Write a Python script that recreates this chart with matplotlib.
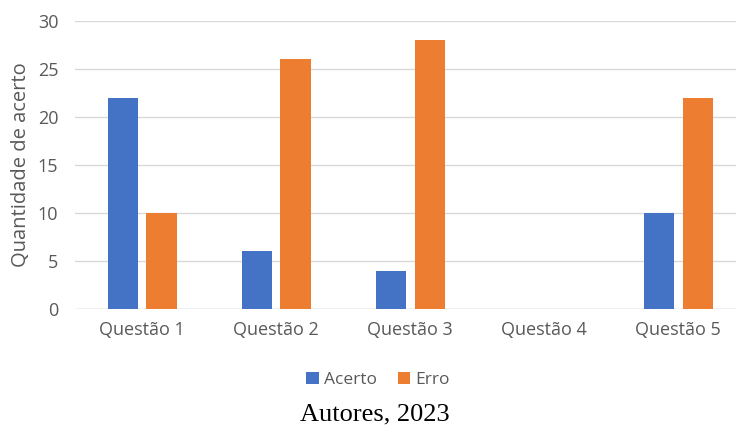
import numpy as np
import matplotlib.pyplot as plt

categorias = ["Questão 1", "Questão 2", "Questão 3", "Questão 4", "Questão 5"]
acerto = [22, 6, 4, 0, 10]
erro = [10, 26, 28, 0, 22]

azul = "#4472C4"
laranja = "#ED7D31"
cinza = "#595959"

plt.rcParams['font.family'] = ['Open Sans', 'DejaVu Sans']

fig = plt.figure(figsize=(7.36, 4.28), dpi=100)
ax = fig.add_axes([75 / 736, 1 - 309 / 428, 661 / 736, 288 / 428])

x = np.arange(len(categorias))
w = 0.225
ax.bar(x - 0.145, acerto, w, color=azul, label="Acerto", zorder=3)
ax.bar(x + 0.145, erro, w, color=laranja, label="Erro", zorder=3)

ax.set_ylim(0, 30)
ax.set_yticks(range(0, 31, 5))
ax.set_xlim(-0.5, 4.43)
ax.set_xticks(x)
ax.set_xticklabels(categorias)
ax.tick_params(axis='both', length=0, colors=cinza, labelsize=13)
ax.tick_params(axis='x', pad=9)
ax.tick_params(axis='y', pad=12)
ax.grid(axis='y', color='#D9D9D9', linewidth=1, zorder=0)
for s in ax.spines.values():
    s.set_visible(False)
ax.axhline(0, color='#D9D9D9', linewidth=1, zorder=1)

ax.set_ylabel("Quantidade de acerto", color=cinza, fontsize=14.5, labelpad=5)

ax.legend(loc='center', bbox_to_anchor=(378 / 736, 1 - 380 / 428),
          bbox_transform=fig.transFigure, ncol=2, frameon=False,
          fontsize=12.5, labelcolor=cinza, handlelength=0.7, handleheight=0.7,
          handletextpad=0.3, columnspacing=1.2)

fig.text(375 / 736, 1 - 414 / 428, "Autores, 2023", ha='center', va='center',
         family='Liberation Serif', fontsize=19, color='black')

fig.savefig("out.png", dpi=100)
